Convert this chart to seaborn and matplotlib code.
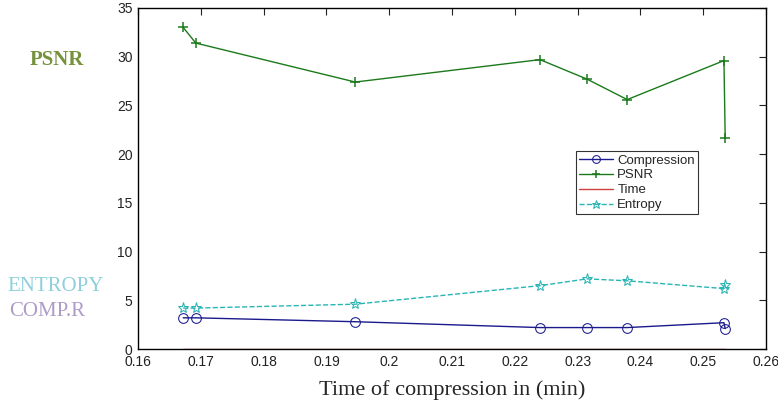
import numpy as np
import pandas as pd
import seaborn as sns
import matplotlib
matplotlib.use("Agg")
import matplotlib.pyplot as plt

## Data
time_min = [0.1672, 0.1692, 0.1946, 0.2240, 0.2315, 0.2379, 0.2533, 0.2535]
compression = [3.2, 3.2, 2.8, 2.2, 2.2, 2.2, 2.7, 2.1]
psnr = [33.0, 31.4, 27.4, 29.7, 27.7, 25.6, 29.6, 21.7]
time_vals = [0.0, 0.0, 0.0, 0.0, 0.0, 0.0, 0.0, 0.0]   # red line not visible: sits on the x axis
entropy = [4.2, 4.2, 4.6, 6.5, 7.2, 7.0, 6.2, 6.6]

xticks = [0.16, 0.17, 0.18, 0.19, 0.2, 0.21, 0.22, 0.23, 0.24, 0.25, 0.26]
xtick_labels = ["0.16", "0.17", "0.18", "0.19", "0.2", "0.21", "0.22", "0.23", "0.24", "0.25", "0.26"]
yticks = [0, 5, 10, 15, 20, 25, 30, 35]

df = pd.DataFrame({"time": time_min, "Compression": compression, "PSNR": psnr,
                   "Time": time_vals, "Entropy": entropy})

sns.set_style("white")
plt.rcParams['font.family'] = ['Liberation Sans', 'DejaVu Sans']

fig = plt.figure(figsize=(7.78, 4.08), dpi=100)
ax = fig.add_axes([0.1774, 0.1446, 0.8072, 0.8358])

sns.lineplot(data=df, x="time", y="Compression", ax=ax, color="#1a1a8c", marker="o",
             markersize=7, markerfacecolor="none", markeredgecolor="#1a1a8c",
             linewidth=1, label="Compression", sort=False)
sns.lineplot(data=df, x="time", y="PSNR", ax=ax, color="#1b7a1b", marker="+",
             markersize=7.5, markeredgewidth=1.1, markeredgecolor="#1b7a1b",
             linewidth=1, label="PSNR", sort=False)
sns.lineplot(data=df, x="time", y="Time", ax=ax, color="#d04040", linewidth=1,
             label="Time", sort=False)
sns.lineplot(data=df, x="time", y="Entropy", ax=ax, color="#2ab5b5", marker="*",
             markersize=8, markerfacecolor="none", markeredgecolor="#2ab5b5",
             linestyle="--", dashes=(6, 4), linewidth=1, label="Entropy", sort=False)

ax.set_xlim(0.16, 0.26)
ax.set_ylim(0, 35)
ax.set_xticks(xticks)
ax.set_xticklabels(xtick_labels)
ax.set_yticks(yticks)
ax.tick_params(direction="in", top=True, right=True, length=5, width=0.8,
               labelsize=10, colors="#222222", pad=4)
for s in ax.spines.values():
    s.set_color("black")
    s.set_linewidth(1.0)
    s.set_zorder(5)
ax.set_xlabel("Time of compression in (min)", fontsize=16, family="Liberation Serif",
              labelpad=8)
ax.set_ylabel(None)

leg = ax.legend(loc="upper left", bbox_to_anchor=(0.6865, 0.6), fontsize=9.5,
                frameon=True, fancybox=False, edgecolor="black", handlelength=2.6,
                borderpad=0.25, labelspacing=0.2, handletextpad=0.3, markerscale=0.8)
leg.get_frame().set_linewidth(0.8)

# side labels
fig.text(0.073, 0.853, "PSNR", fontsize=15, fontweight="bold", color="#76923c",
         family="Liberation Serif", ha="center", va="center")
fig.text(0.071, 0.299, "ENTROPY", fontsize=15, color="#8fd0dc",
         family="Liberation Serif", ha="center", va="center")
fig.text(0.060, 0.237, "COMP.R", fontsize=15, color="#ad9cc8",
         family="Liberation Serif", ha="center", va="center")

plt.savefig("out.png", dpi=100)
plt.close()
